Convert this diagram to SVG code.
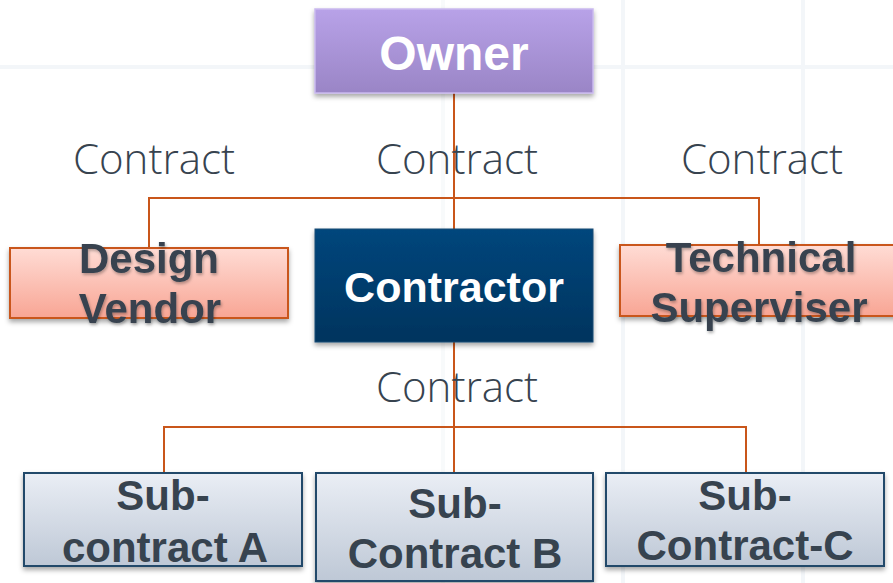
<svg xmlns="http://www.w3.org/2000/svg" width="893" height="583" viewBox="0 0 893 583">
<defs>
<linearGradient id="gOwner" x1="0" y1="0" x2="0" y2="1"><stop offset="0" stop-color="#b8a2e8"/><stop offset="1" stop-color="#9a85c6"/></linearGradient>
<linearGradient id="gPink" x1="0" y1="0" x2="0" y2="1"><stop offset="0" stop-color="#ffdcd5"/><stop offset="1" stop-color="#f8a594"/></linearGradient>
<linearGradient id="gBlue" x1="0" y1="0" x2="0" y2="1"><stop offset="0" stop-color="#00467c"/><stop offset="1" stop-color="#00345e"/></linearGradient>
<linearGradient id="gGrey" x1="0" y1="0" x2="0" y2="1"><stop offset="0" stop-color="#eaeef5"/><stop offset="1" stop-color="#bec8d6"/></linearGradient>
<filter id="sh" x="-10%" y="-20%" width="120%" height="150%"><feDropShadow dx="0" dy="3" stdDeviation="2.5" flood-color="#000" flood-opacity="0.35"/></filter>
<filter id="tsh" x="-10%" y="-20%" width="120%" height="150%"><feDropShadow dx="1" dy="2" stdDeviation="1.5" flood-color="#000" flood-opacity="0.3"/></filter>
</defs>
<style>
.lbl{font-family:"Open Sans","Liberation Sans",sans-serif;font-weight:300;font-size:42px;fill:#37434f;text-anchor:middle}
.b{font-family:"Liberation Sans",Arial,sans-serif;font-weight:bold;font-size:42px;text-anchor:middle}
.dk{fill:#37434f}
.wh{fill:#ffffff}
.big{font-size:48px}
.mid{font-size:43px}
.con{fill:none;stroke:#c9561a;stroke-width:2}
.grid{stroke:#f3f6f9;stroke-width:4;fill:none}
</style>
<rect width="893" height="583" fill="#ffffff"/>
<g id="background">
<line class="grid" x1="0" y1="67" x2="893" y2="67"/>
<line class="grid" x1="623" y1="0" x2="623" y2="583"/>
<line class="grid" x1="803" y1="0" x2="803" y2="583"/>
<line class="grid" x1="443" y1="0" x2="443" y2="583" stroke-opacity="0.6"/>
</g>
<g id="connectors">
<path class="con" d="M454 93 V229 M149 248 V198 H759 V245"/>
<path class="con" d="M454 342 V473 M164 473 V427 H746 V473"/>
</g>
<g id="labels">
<text class="lbl" x="154" y="174">Contract</text>
<text class="lbl" x="457" y="174">Contract</text>
<text class="lbl" x="762" y="174">Contract</text>
<text class="lbl" x="457" y="402">Contract</text>
</g>
<g id="owner">
<rect x="315" y="9" width="278" height="84" fill="url(#gOwner)" stroke="#c9b9ee" stroke-width="1.5" filter="url(#sh)"/>
<text class="b wh big" x="454" y="70">Owner</text>
</g>
<g id="design-vendor">
<rect x="10" y="248" width="278" height="70" fill="url(#gPink)" stroke="#c9561a" stroke-width="2" filter="url(#sh)"/>
<text class="b dk" x="149" y="273" filter="url(#tsh)">Design</text>
<text class="b dk" x="150" y="323" filter="url(#tsh)">Vendor</text>
</g>
<g id="contractor">
<rect x="315" y="229" width="278" height="113" fill="url(#gBlue)" stroke="#1b4a75" stroke-width="1" filter="url(#sh)"/>
<text class="b wh mid" x="454" y="302">Contractor</text>
</g>
<g id="technical-superviser">
<rect x="620" y="245" width="280" height="71" fill="url(#gPink)" stroke="#c9561a" stroke-width="2" filter="url(#sh)"/>
<text class="b dk" x="761" y="272" filter="url(#tsh)">Technical</text>
<text class="b dk" x="759" y="322" filter="url(#tsh)">Superviser</text>
</g>
<g id="subcontract-a">
<rect x="24" y="473" width="278" height="93" fill="url(#gGrey)" stroke="#24496b" stroke-width="2" filter="url(#sh)"/>
<text class="b dk" x="163" y="510">Sub-</text>
<text class="b dk" x="165" y="562">contract A</text>
</g>
<g id="subcontract-b">
<rect x="316" y="473" width="277" height="108" fill="url(#gGrey)" stroke="#24496b" stroke-width="2" filter="url(#sh)"/>
<text class="b dk" x="455" y="518">Sub-</text>
<text class="b dk" x="455" y="568">Contract B</text>
</g>
<g id="subcontract-c">
<rect x="606" y="473" width="278" height="93" fill="url(#gGrey)" stroke="#24496b" stroke-width="2" filter="url(#sh)"/>
<text class="b dk" x="745" y="510">Sub-</text>
<text class="b dk" x="745" y="560">Contract-C</text>
</g>
</svg>
